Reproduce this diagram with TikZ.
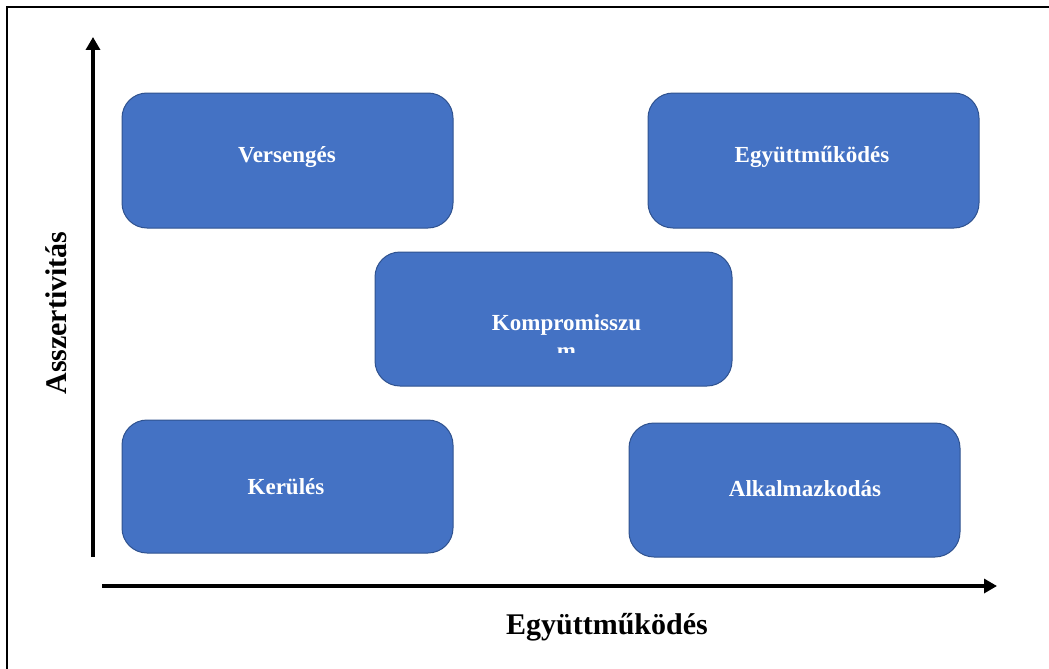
\documentclass[tikz,border=0pt]{standalone}
\usepackage{fontspec}
\setmainfont{Liberation Serif}
\usetikzlibrary{arrows.meta}
\definecolor{boxfill}{HTML}{4472C4}
\definecolor{boxline}{HTML}{2F528F}
\tikzset{
  quad/.style={draw=boxline, line width=1pt, fill=boxfill, rounded corners=25pt},
  quadtext/.style={text=white, font=\fontsize{23}{27}\selectfont\bfseries, inner sep=0pt},
  axis/.style={line width=4pt, -{Triangle[width=14pt,length=13pt]}},
  axislabel/.style={font=\fontsize{30}{34}\selectfont\bfseries, inner sep=0pt}
}
\begin{document}
\begin{tikzpicture}[x=1pt,y=-1pt]
\useasboundingbox (0,0) rectangle (1049,669);
% frame
\draw[line width=2pt] (7,669) -- (7,7) -- (1049,7);
% boxes
\draw[quad] (122,93) rectangle (453,228);
\draw[quad] (648,93) rectangle (979,228);
\draw[quad] (375,252) rectangle (732,386);
\draw[quad] (122,420) rectangle (453,553);
\draw[quad] (629,423) rectangle (960,557);
% texts
\node[quadtext] (vers) at (287,157) {Versengés};
\node[quadtext] (egy) at (812,157) {Együttműködés};
\node[quadtext, anchor=base] (komp) at (566.5,330) {Kompromisszu};
\begin{scope}
  \clip (375,300) rectangle (732,352);
  \node[quadtext, anchor=base] (kompm) at (566.5,358) {m};
\end{scope}
\node[quadtext] (ker) at (286,487) {Kerülés};
\node[quadtext] (alk) at (805,489) {Alkalmazkodás};
% axes
\coordinate (yb) at (93,557);
\coordinate (yt) at (93,37);
\coordinate (xl) at (102,586);
\coordinate (xr) at (997,586);
\draw[axis] (yb) -- (yt);
\draw[axis] (xl) -- (xr);
\node[axislabel, rotate=90] (ylab) at (56,313) {Asszertivitás};
\node[axislabel] (xlab) at (607,627) {Együttműködés};
\end{tikzpicture}
\end{document}
